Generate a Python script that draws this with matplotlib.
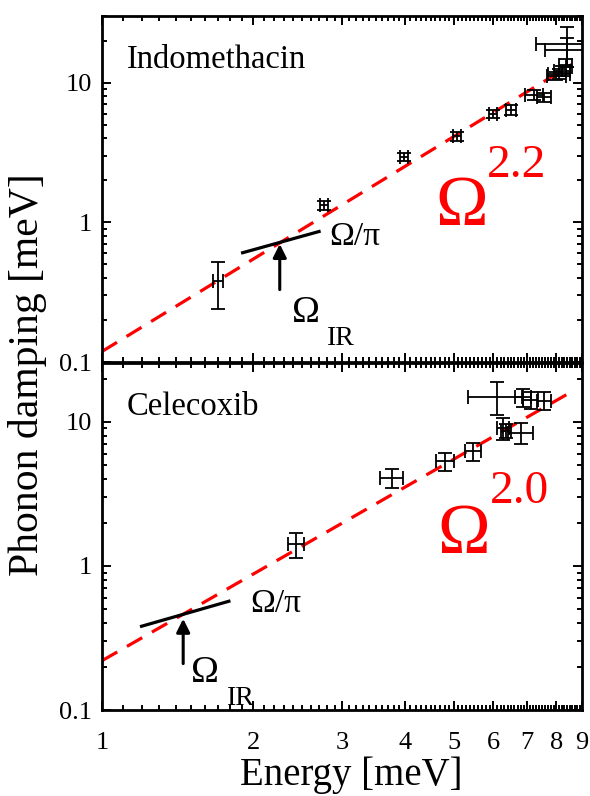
import numpy as np
import matplotlib.pyplot as plt
from matplotlib.ticker import FixedLocator, NullFormatter, FuncFormatter, LogLocator

plt.rcParams['font.family'] = ['Liberation Serif', 'DejaVu Serif']

# ---- data: Indomethacin (top) ----
indo_E    = [1.70, 2.76, 3.99, 5.07, 6.00, 6.50, 7.23, 7.57, 8.00, 8.10, 8.20, 8.36, 8.40, 8.40]
indo_D    = [0.38, 1.32, 2.93, 4.13, 5.98, 6.38, 8.17, 7.85, 11.2, 11.6, 12.2, 13.3, 17.0, 19.0]
indo_xerr = [0.04, 0.05, 0.07, 0.09, 0.11, 0.15, 0.30, 0.25, 0.35, 0.40, 0.30, 0.25, 0.80, 1.10]
indo_yerr = [0.14, 0.09, 0.20, 0.28, 0.40, 0.50, 0.70, 0.60, 0.80, 1.00, 1.00, 1.50, 4.00, 6.00]

# ---- data: Celecoxib (bottom) ----
cele_E    = [2.43, 3.77, 4.81, 5.47, 6.10, 6.28, 6.35, 6.80, 6.88, 7.12, 7.57]
cele_D    = [1.41, 4.08, 5.31, 6.23, 15.0, 9.1, 8.7, 8.4, 14.8, 14.2, 14.0]
cele_xerr = [0.09, 0.20, 0.20, 0.21, 0.75, 0.17, 0.15, 0.40, 0.25, 0.25, 0.25]
cele_yerr = [0.28, 0.60, 0.75, 0.85, 3.80, 1.60, 1.00, 1.40, 2.20, 2.00, 2.00]

# power law fits  D = A * E^p
indo_fit = dict(A=0.119, p=2.2, Emax=8.6)
cele_fit = dict(A=0.22, p=2.0, Emax=8.7)

# Omega/pi segment and Omega_IR arrow
indo_pi_range = (1.89, 2.72)
cele_pi_range = (1.19, 1.80)
indo_IR = dict(E=2.256, tip=0.70, tail=0.33)
cele_IR = dict(E=1.45, tip=0.43, tail=0.21)

xticks_major = [1, 2, 3, 4, 5, 6, 7, 8, 9]

fig = plt.figure(figsize=(5.9, 7.96), dpi=100)
ax1 = fig.add_axes([0.1729, 0.5452, 0.8136, 0.4347])
ax2 = fig.add_axes([0.1729, 0.1080, 0.8136, 0.4359])


def style(ax, ylim, show_x):
    ax.set_xscale('log')
    ax.set_yscale('log')
    ax.set_xlim(1, 9)
    ax.set_ylim(*ylim)
    ax.xaxis.set_major_locator(FixedLocator(xticks_major))
    minors = [v for v in np.round(np.arange(1.0, 9.0, 0.1), 1) if v not in xticks_major]
    ax.xaxis.set_minor_locator(FixedLocator(minors))
    ax.xaxis.set_minor_formatter(NullFormatter())
    if show_x:
        ax.xaxis.set_major_formatter(FuncFormatter(lambda v, p: '%g' % v))
    else:
        ax.xaxis.set_major_formatter(NullFormatter())
    ax.yaxis.set_major_locator(LogLocator(base=10))
    ax.yaxis.set_minor_locator(LogLocator(base=10, subs=np.arange(2, 10)))
    ax.yaxis.set_major_formatter(FuncFormatter(lambda v, p: '%g' % v))
    ax.yaxis.set_minor_formatter(NullFormatter())
    ax.tick_params(which='both', direction='in', top=True, right=True, width=1.4, labelsize=19)
    ax.tick_params(which='major', length=6.5)
    ax.tick_params(which='minor', length=3.6)
    ax.tick_params(axis='x', pad=16)
    ax.tick_params(axis='y', pad=7)
    for s in ax.spines.values():
        s.set_linewidth(2)


def draw(ax, E, D, xerr, yerr, fit, pi_range, ir):
    Ef = np.geomspace(1, fit['Emax'], 100)
    ax.plot(Ef, fit['A'] * Ef ** fit['p'], color='red', lw=2.3, dashes=(5.5, 3.5))
    ax.errorbar(E, D, xerr=xerr, yerr=yerr, fmt='none', ecolor='k',
                elinewidth=1.3, capsize=5, capthick=1.3)
    Ep = np.array(pi_range)
    ax.plot(Ep, Ep / np.pi, color='k', lw=2.3, solid_capstyle='butt')
    ax.annotate('', xy=(ir['E'], ir['tip']), xytext=(ir['E'], ir['tail']),
                arrowprops=dict(arrowstyle='-|>', lw=2.2, color='k', mutation_scale=20,
                                shrinkA=0, shrinkB=0))


style(ax1, (0.1, 30), False)
style(ax2, (0.1, 25.6), True)
draw(ax1, indo_E, indo_D, indo_xerr, indo_yerr, indo_fit, indo_pi_range, indo_IR)
draw(ax2, cele_E, cele_D, cele_xerr, cele_yerr, cele_fit, cele_pi_range, cele_IR)

# labels in panel
ax1.text(0.052, 0.85, 'Indomethacin', transform=ax1.transAxes, fontsize=23.5, va='baseline')
ax2.text(0.052, 0.85, 'Celecoxib', transform=ax2.transAxes, fontsize=23.5, va='baseline')

ax1.text(0.694, 0.396, 'Ω', transform=ax1.transAxes, fontsize=51, color='red', va='baseline')
ax1.text(0.802, 0.535, '2.2', transform=ax1.transAxes, fontsize=34, color='red', va='baseline')
ax2.text(0.698, 0.452, 'Ω', transform=ax2.transAxes, fontsize=51, color='red', va='baseline')
ax2.text(0.808, 0.597, '2.0', transform=ax2.transAxes, fontsize=34, color='red', va='baseline')

ax1.text(0.473, 0.338, 'Ω/π', transform=ax1.transAxes, fontsize=24, va='baseline')
ax2.text(0.308, 0.283, 'Ω/π', transform=ax2.transAxes, fontsize=24, va='baseline')

ax1.text(0.395, 0.116, 'Ω', transform=ax1.transAxes, fontsize=27, va='baseline')
ax1.text(0.468, 0.049, 'IR', transform=ax1.transAxes, fontsize=20, va='baseline')
ax2.text(0.185, 0.082, 'Ω', transform=ax2.transAxes, fontsize=27, va='baseline')
ax2.text(0.260, 0.014, 'IR', transform=ax2.transAxes, fontsize=20, va='baseline')

fig.text(0.047, 0.529, 'Phonon damping [meV]', rotation=90, fontsize=30,
         ha='center', va='center')
fig.text(0.595, 0.026, 'Energy [meV]', fontsize=28, ha='center', va='center')

fig.savefig('out.png', dpi=100)
